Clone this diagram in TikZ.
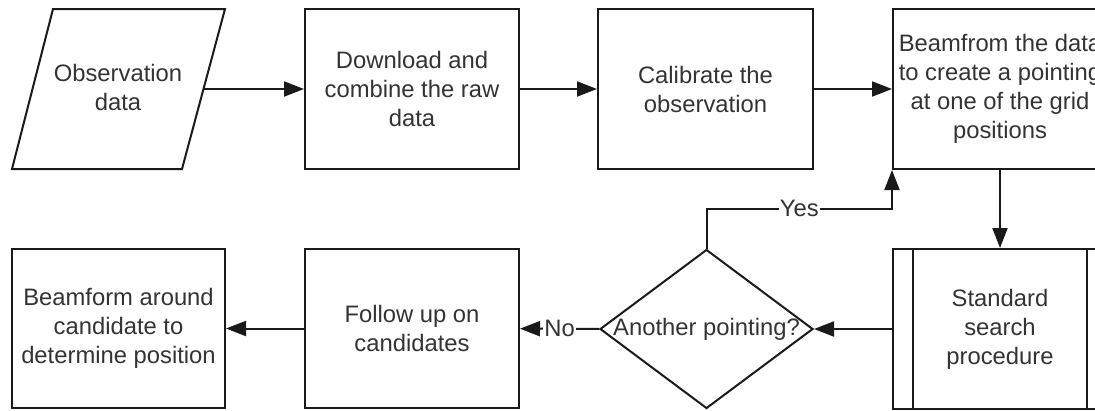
\documentclass[tikz,border=0pt]{standalone}
\usepackage{fontspec}
\setmainfont{Liberation Sans}
\usetikzlibrary{shapes.geometric,arrows.meta,calc}
\definecolor{ln}{HTML}{1A1A1A}
\definecolor{txt}{HTML}{333333}
\begin{document}
\begin{tikzpicture}[x=1pt,y=-1pt,
  every node/.style={font=\fontsize{23.8}{29}\selectfont, text=txt, align=center},
  box/.style={draw=ln, line width=2pt, minimum width=214pt, minimum height=160pt, inner sep=0pt},
  arr/.style={draw=ln, line width=2pt, -{Triangle[length=20pt,width=15pt]}},
  lbl/.style={fill=white, inner sep=1pt}
]
\useasboundingbox (0,0) rectangle (1095,410);
\clip (0,0) rectangle (1095,410);
% top row
\draw[ln, line width=2pt, line join=miter] (53,9) -- (225,9) -- (182,169) -- (12,169) -- cycle;
\node (obs) at (118,87) {Observation\\data};
\coordinate (obsR) at (203.5,89);
\node[box] (dl) at (412,89) {Download and\\combine the raw\\data};
\node[box, minimum width=215pt] (cal) at (705.5,89) {Calibrate the\\observation};
\node[box] (bf) at (1000,89) {Beamfrom the data\\to create a pointing\\at one of the grid\\positions};
% bottom row
\node[box, minimum width=213pt, minimum height=159pt] (bfa) at (118.5,328.5) {Beamform around\\candidate to\\determine position};
\node[box, minimum height=159pt] (fu) at (412,328.5) {Follow up on\\candidates};
\node[diamond, draw=ln, line width=2pt, minimum width=213pt, minimum height=159pt, inner sep=0pt] (dec) at (706.5,329) {\makebox[0pt]{Another pointing?}};
\node[box, minimum height=160pt] (ssp) at (1000,329) {Standard\\search\\procedure};
\draw[ln, line width=2pt] ($(ssp.north west)+(21,0)$) -- ($(ssp.south west)+(21,0)$);
\draw[ln, line width=2pt] ($(ssp.north east)+(-21,0)$) -- ($(ssp.south east)+(-21,0)$);
% connectors
\draw[arr] (obsR) -- (dl.west);
\draw[arr] (dl) -- (cal);
\draw[arr] (cal) -- (bf);
\draw[arr] (bf) -- (ssp);
\draw[arr] (ssp) -- (dec);
\draw[arr] (dec) -- node[lbl]{No} (fu);
\draw[arr] (fu) -- (bfa);
\draw[arr] (dec.north) -- ++(0,-40) -| node[lbl, pos=0.25]{Yes} (bf.south west);
\end{tikzpicture}
\end{document}
